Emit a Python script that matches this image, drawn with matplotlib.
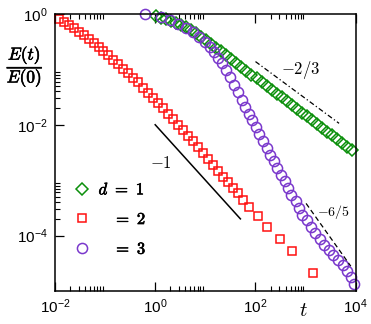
import matplotlib
matplotlib.use('Agg')
import matplotlib.pyplot as plt
import matplotlib.patheffects as pe

plt.rcParams['mathtext.fontset'] = 'cm'
plt.rcParams['font.family'] = ['Liberation Sans', 'DejaVu Sans']

# d = 1 (green diamonds)
t_d1 = [1.05, 1.32, 1.66, 2.09, 2.63, 3.31, 4.17, 5.25, 6.61, 8.32, 10.5, 13.2, 16.6, 20.9,
        26.3, 33.1, 41.7, 52.5, 66.1, 83.2, 105, 132, 166, 209, 263, 331, 417, 525, 661, 832,
        1047, 1318, 1660, 2089, 2630, 3311, 4169, 5248, 6607, 8318]
E_d1 = [0.902, 0.847, 0.796, 0.748, 0.697, 0.641, 0.575, 0.504, 0.446, 0.385, 0.333, 0.288,
        0.247, 0.211, 0.180, 0.151, 0.129, 0.110, 0.0940, 0.0803, 0.0686, 0.0586, 0.0500,
        0.0428, 0.0365, 0.0312, 0.0266, 0.0228, 0.0194, 0.0166, 0.0142, 0.0121, 0.0103,
        0.00883, 0.00754, 0.00644, 0.00551, 0.00470, 0.00402, 0.00343]

# d = 2 (red squares)
t_d2 = [0.0123, 0.0155, 0.0195, 0.0240, 0.0302, 0.0380, 0.0479, 0.0603, 0.0741, 0.0912,
        0.115, 0.145, 0.182, 0.229, 0.288, 0.363, 0.457, 0.575, 0.724, 0.912, 1.15, 1.45,
        1.82, 2.29, 2.88, 3.63, 4.57, 5.75, 7.24, 9.12, 11.5, 14.5, 18.2, 22.9, 28.8, 36.3,
        45.7, 57.5, 74.1, 110, 166, 302, 525, 1380]
E_d2 = [0.796, 0.703, 0.621, 0.548, 0.474, 0.410, 0.348, 0.294, 0.249, 0.211, 0.179, 0.148,
        0.123, 0.102, 0.0847, 0.0703, 0.0583, 0.0465, 0.0378, 0.0300, 0.0244, 0.0198, 0.0158,
        0.0126, 0.0100, 0.00796, 0.00634, 0.00505, 0.00402, 0.00313, 0.00244, 0.00190,
        0.00148, 0.00116, 0.000920, 0.000733, 0.000583, 0.000446, 0.000333, 0.000229,
        0.000145, 8.83e-5, 5.37e-5, 2.15e-5]

# d = 3 (purple circles)
t_d3 = [0.63, 1.32, 2.0, 2.88, 4.17, 5.75, 7.59, 9.77, 12.3, 15.1, 18.2, 21.4, 25.7, 30.9,
        37.2, 44.7, 53.7, 63.1, 74.1, 87.1, 102, 120, 138, 166, 195, 229, 272, 316, 380, 443,
        518, 631, 735, 859, 1047, 1259, 1549, 1905, 2323, 2884, 3581, 4426, 5572, 6823,
        8128, 9333]
E_d3 = [1.0, 0.883, 0.764, 0.661, 0.560, 0.464, 0.377, 0.306, 0.249, 0.202, 0.161, 0.128,
        0.098, 0.0718, 0.0526, 0.0385, 0.0282, 0.0211, 0.0158, 0.0121, 0.0092, 0.00689,
        0.00515, 0.00385, 0.00288, 0.00218, 0.00166, 0.00126, 0.000953, 0.000724, 0.000548,
        0.000415, 0.000315, 0.000239, 0.000189, 0.000144, 0.000112, 8.73e-5, 6.89e-5,
        5.48e-5, 4.46e-5, 3.62e-5, 2.88e-5, 2.28e-5, 1.75e-5, 1.36e-5]

# power-law guide lines
guide_m1_t = [1, 50]
guide_m1_E = [1e-2, 2e-4]
guide_m23_t = [100, 4640]
guide_m23_E = [0.138, 0.0106]
guide_m65_t = [1020, 7940]
guide_m65_E = [3.8e-4, 2.8e-5]

xticks = [1e-2, 1e0, 1e2, 1e4]
xticklabels = [r'$\mathdefault{10^{-2}}$', r'$\mathdefault{10^{0}}$',
               r'$\mathdefault{10^{2}}$', r'$\mathdefault{10^{4}}$']
yticks = [1e-4, 1e-2, 1e0]
yticklabels = [r'$\mathdefault{10^{-4}}$', r'$\mathdefault{10^{-2}}$', r'$\mathdefault{10^{0}}$']

green = '#0b8f0b'
red = '#ff1010'
purple = '#7a38cc'

fig = plt.figure(figsize=(3.71, 3.24), dpi=100)
ax = fig.add_axes([0.148, 0.102, 0.811, 0.855])
ax.set_xscale('log')
ax.set_yscale('log')

h1, = ax.plot(t_d1, E_d1, ls='none', marker='D', ms=5.8, mfc='none', mec=green, mew=1.1, clip_on=False)
h2, = ax.plot(t_d2, E_d2, ls='none', marker='s', ms=6.4, mfc='none', mec=red, mew=1.1, clip_on=False)
h3, = ax.plot(t_d3, E_d3, ls='none', marker='o', ms=7.3, mfc='none', mec=purple, mew=1.1, clip_on=False)

ax.plot(guide_m1_t, guide_m1_E, color='k', lw=1.1)
ax.plot(guide_m23_t, guide_m23_E, color='k', lw=0.9, ls=(0, (4, 2, 1, 2)))
ax.plot(guide_m65_t, guide_m65_E, color='k', lw=0.9, ls=(0, (4, 2.5)))

ax.text(1.32, 2.07e-3, r'$-1$', fontsize=12, ha='center', va='center')
ax.text(794, 0.098, r'$-2/3$', fontsize=12, ha='center', va='center')
ax.text(3548, 2.7e-4, r'$-6/5$', fontsize=10, ha='center', va='center')

ax.set_xlim(1e-2, 1e4)
ax.set_ylim(1e-5, 1)
ax.set_xticks(xticks)
ax.set_xticklabels(xticklabels)
ax.set_yticks(yticks)
ax.set_yticklabels(yticklabels)
ax.set_xticks([k * 10.0 ** e for e in (-2, 0, 2) for k in range(2, 10)], minor=True)
ax.set_yticks([k * 10.0 ** e for e in (-4, -2) for k in range(2, 10)], minor=True)
ax.tick_params(which='both', direction='in', top=True, right=False, labelsize=11)
ax.tick_params(which='major', length=6.5, width=0.9, pad=5)
ax.tick_params(which='minor', length=3.6, width=0.8, labelbottom=False, labelleft=False)
for s in ax.spines.values():
    s.set_linewidth(1.1)

bold = [pe.withStroke(linewidth=0.45, foreground='k')]
yl = fig.text(0.068, 0.793, r'$\dfrac{E(t)}{E(0)}$', fontsize=12.5, ha='center', va='center')
yl.set_path_effects(bold)
xl = ax.text(0.825, -0.069, r'$t$', transform=ax.transAxes, fontsize=15, ha='center', va='center')

leg = ax.legend([h1, h2, h3], [r'$d\ =\ 1$', r'$\hspace{1.0}=\ 2$', r'$\hspace{1.0}=\ 3$'],
                loc='upper left', bbox_to_anchor=(0.0675, 0.399), frameon=False,
                fontsize=12, handlelength=0.8, handletextpad=0.6, labelspacing=0.82,
                borderpad=0, borderaxespad=0, numpoints=1)
for txt in leg.get_texts():
    txt.set_path_effects(bold)

fig.savefig('out.png', dpi=100)
